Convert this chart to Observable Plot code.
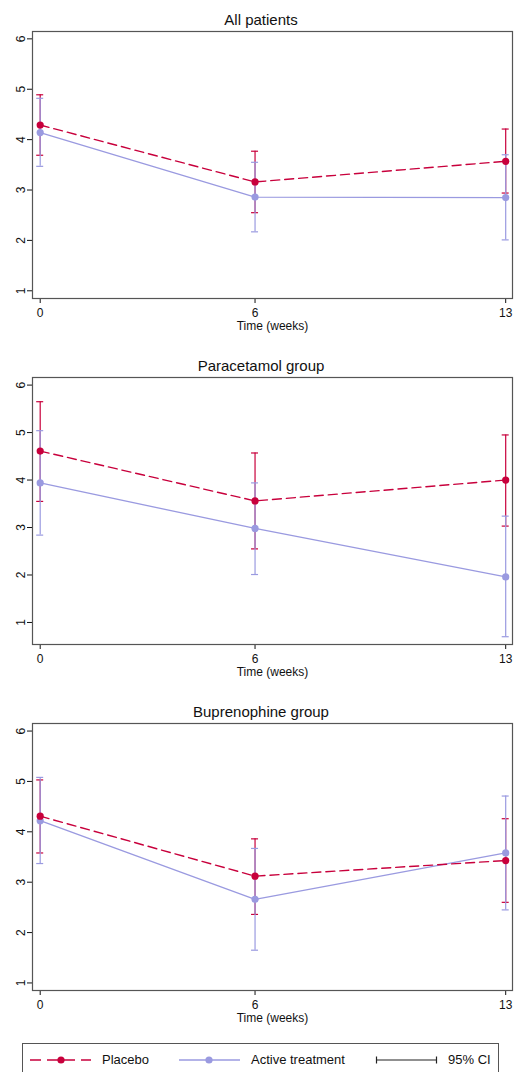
<!DOCTYPE html>
<html><head><meta charset="utf-8">
<script src="https://cdn.jsdelivr.net/npm/d3@7"></script>
<script src="https://cdn.jsdelivr.net/npm/@observablehq/plot@0.6"></script>
<style>
body{margin:0;background:#fff;font-family:"Liberation Sans",Arial,sans-serif;overflow:hidden;width:514px;height:1072px;position:relative;color:#111}
.panel{position:absolute;left:0;width:514px;height:346px}
.title{position:absolute;left:8px;right:0;top:10px;text-align:center;font-size:15px;line-height:20px;color:#111}
.legend{position:absolute;left:22px;top:1043px;width:477px;height:40px;border:1px solid #555;box-sizing:border-box}
.legend .lab{position:absolute;top:6px;font-size:13px;line-height:20px;color:#111;white-space:nowrap}
.legend svg{position:absolute;left:0;top:0}
</style>
</head><body>
<div id="root"></div>
<script>
const weeks = [0, 6, 13];
const panelTitles = ["All patients", "Paracetamol group", "Buprenophine group"];
const seriesNames = ["Placebo", "Active treatment"];
const placeboMean = [[4.29, 3.16, 3.57], [4.61, 3.56, 4.00], [4.31, 3.12, 3.43]];
const placeboLow  = [[3.69, 2.55, 2.94], [3.55, 2.55, 3.03], [3.58, 2.36, 2.60]];
const placeboHigh = [[4.89, 3.77, 4.21], [5.65, 4.57, 4.95], [5.03, 3.86, 4.26]];
const activeMean  = [[4.14, 2.86, 2.85], [3.94, 2.98, 1.96], [4.22, 2.66, 3.58]];
const activeLow   = [[3.47, 2.17, 2.01], [2.84, 2.01, 0.70], [3.37, 1.65, 2.45]];
const activeHigh  = [[4.82, 3.55, 3.70], [5.04, 3.94, 3.24], [5.08, 3.67, 4.71]];
const yTicks = [1, 2, 3, 4, 5, 6];
const xTicks = [0, 6, 13];
const yDomains = [[0.847, 6.146], [0.536, 6.16], [0.85, 6.15]];
const xDomain = [-0.215, 13.19];
const xLabel = "Time (weeks)";
const ciLabel = "95% CI";

const RED = "#c8003c";
const LAV = "#9a9ae0";

function rowsFor(mean, low, high) {
  return weeks.map((w, j) => ({week: w, mean: mean[j], low: low[j], high: high[j]}));
}

function ciMarks(rows, color, width) {
  return [
    Plot.ruleX(rows, {x: "week", y1: "low", y2: "high", stroke: color, strokeWidth: width}),
    Plot.ruleY(rows, {x1: "week", x2: "week", y: "low", stroke: color, strokeWidth: width, insetLeft: -3.5, insetRight: -3.5}),
    Plot.ruleY(rows, {x1: "week", x2: "week", y: "high", stroke: color, strokeWidth: width, insetLeft: -3.5, insetRight: -3.5})
  ];
}

const root = document.getElementById("root");
panelTitles.forEach((t, i) => {
  const panel = document.createElement("div");
  panel.className = "panel";
  panel.style.top = (i * 346) + "px";
  const title = document.createElement("div");
  title.className = "title";
  title.textContent = t;
  panel.appendChild(title);

  const pRows = rowsFor(placeboMean[i], placeboLow[i], placeboHigh[i]);
  const aRows = rowsFor(activeMean[i], activeLow[i], activeHigh[i]);

  const chart = Plot.plot({
    width: 514, height: 318,
    marginTop: 6, marginBottom: 45, marginLeft: 32, marginRight: 2,
    style: {fontFamily: "'Liberation Sans', Arial, sans-serif", fontSize: "12px", color: "#111", background: "transparent"},
    x: {domain: xDomain, ticks: xTicks, tickFormat: d => String(d), tickSize: 5, tickPadding: 4.5,
        label: xLabel, labelAnchor: "center", labelArrow: "none", labelOffset: 31.5},
    y: {domain: yDomains[i], ticks: yTicks, tickFormat: d => String(d), tickSize: 5, tickPadding: 3, tickRotate: -90, label: null},
    marks: [
      ...ciMarks(pRows, RED, 1.2),
      ...ciMarks(aRows, LAV, 1.2),
      Plot.line(aRows, {x: "week", y: "mean", stroke: LAV, strokeWidth: 1.3}),
      Plot.dot(aRows, {x: "week", y: "mean", fill: LAV, r: 3.6}),
      Plot.line(pRows, {x: "week", y: "mean", stroke: RED, strokeWidth: 1.4, strokeDasharray: "9,5"}),
      Plot.dot(pRows, {x: "week", y: "mean", fill: RED, r: 3.6}),
      Plot.frame({stroke: "#555", strokeWidth: 1.2})
    ]
  });
  chart.style.position = "absolute";
  chart.style.top = "25px";
  chart.style.left = "0px";
  panel.appendChild(chart);
  root.appendChild(panel);
});

// legend
const legend = document.createElement("div");
legend.className = "legend";
legend.innerHTML = `
<svg width="477" height="40">
  <line x1="7" x2="68" y1="16" y2="16" stroke="${RED}" stroke-width="1.5" stroke-dasharray="11,6"/>
  <circle cx="38" cy="16" r="3.6" fill="${RED}"/>
  <line x1="156" x2="217" y1="16" y2="16" stroke="${LAV}" stroke-width="1.3"/>
  <circle cx="186" cy="16" r="3.6" fill="${LAV}"/>
  <line x1="353" x2="414" y1="16" y2="16" stroke="#222" stroke-width="1.2"/>
  <line x1="353.5" x2="353.5" y1="12.5" y2="19.5" stroke="#222" stroke-width="1.2"/>
  <line x1="413.5" x2="413.5" y1="12.5" y2="19.5" stroke="#222" stroke-width="1.2"/>
</svg>
<div class="lab" style="left:79px">${seriesNames[0]}</div>
<div class="lab" style="left:228px">${seriesNames[1]}</div>
<div class="lab" style="left:425px">${ciLabel}</div>`;
root.appendChild(legend);
</script>
</body></html>
